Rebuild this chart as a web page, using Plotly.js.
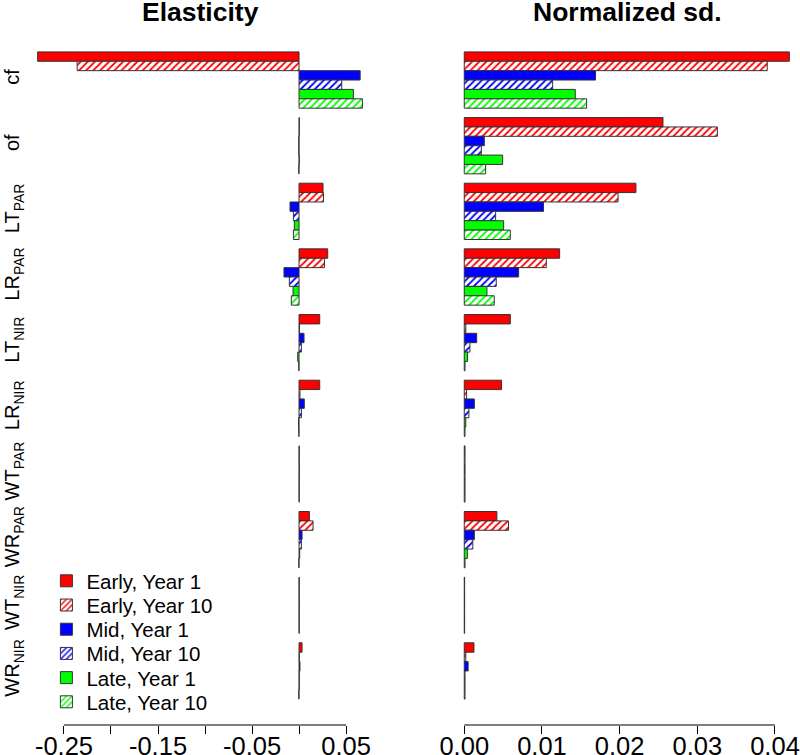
<!DOCTYPE html>
<html>
<head>
<meta charset="utf-8">
<script src="https://cdn.plot.ly/plotly-3.0.1.min.js"></script>
<style>
  body { margin: 0; background: #fff; }
  #chart { width: 800px; height: 755px; }
</style>
</head>
<body>
<div id="chart"></div>
<script>
// categories, top to bottom
const categories = ['cf', 'of', 'LT<sub>PAR</sub>', 'LR<sub>PAR</sub>', 'LT<sub>NIR</sub>',
    'LR<sub>NIR</sub>', 'WT<sub>PAR</sub>', 'WR<sub>PAR</sub>', 'WT<sub>NIR</sub>', 'WR<sub>NIR</sub>'];

const seriesNames = ['Early, Year 1', 'Early, Year 10', 'Mid, Year 1', 'Mid, Year 10', 'Late, Year 1', 'Late, Year 10'];

// Elasticity
const elastEarly1  = [-0.278, 0.0003, 0.0255, 0.0305, 0.022, 0.022, 0.0002, 0.011, 0.0002, 0.0032];
const elastEarly10 = [-0.236, 0.0003, 0.026, 0.027, 0.0005, 0.001, 0.0002, 0.0149, 0.0002, 0.0003];
const elastMid1    = [0.065, -0.0003, -0.0096, -0.016, 0.0053, 0.0056, 0.0003, 0.0032, 0.0002, 0.001];
const elastMid10   = [0.0454, -0.0003, -0.006, -0.0103, 0.0025, 0.0025, 0.0002, 0.0025, 0.0002, 0.0003];
const elastLate1   = [0.0578, 0.0003, -0.005, -0.0064, -0.0014, -0.0005, 0.0002, 0.0007, 0.0002, 0.0003];
const elastLate10  = [0.0674, -0.0003, -0.006, -0.0082, -0.0003, -0.0003, 0.0002, -0.0003, 0.0002, -0.0003];

// Normalized sd.
const sdEarly1  = [0.04185, 0.02558, 0.0221, 0.01228, 0.00593, 0.0048, 0.0001, 0.0042, 0.00005, 0.00125];
const sdEarly10 = [0.0390, 0.03258, 0.0198, 0.01056, 0.0002, 0.0003, 0.0001, 0.0057, 0.00005, 0.0002];
const sdMid1    = [0.0169, 0.00258, 0.0102, 0.0070, 0.0016, 0.0013, 0.0001, 0.0013, 0.00005, 0.0005];
const sdMid10   = [0.01138, 0.0022, 0.00404, 0.00412, 0.00073, 0.0006, 0.0001, 0.0011, 0.00005, 0.0001];
const sdLate1   = [0.01429, 0.00494, 0.00507, 0.00292, 0.00043, 0.0002, 0.0001, 0.0004, 0.00005, 0.0001];
const sdLate10  = [0.01575, 0.00275, 0.00593, 0.00386, 0.0001, 0.0001, 0.0001, 0.0001, 0.00005, 0.0001];

// ticks
const elastTicks = [-0.25, -0.20, -0.15, -0.10, -0.05, 0, 0.05];
const elastTickText = ['-0.25', '', '-0.15', '', '-0.05', '', '0.05'];
const sdTicks = [0, 0.01, 0.02, 0.03, 0.04];
const sdTickText = ['0.00', '0.01', '0.02', '0.03', '0.04'];

const colors = ['#ff0000', '#ff0000', '#0000ff', '#0000ff', '#00ff00', '#00ff00'];
const hatched = [false, true, false, true, false, true];

const elastSeries = [elastEarly1, elastEarly10, elastMid1, elastMid10, elastLate1, elastLate10];
const sdSeries = [sdEarly1, sdEarly10, sdMid1, sdMid10, sdLate1, sdLate10];

const font = 'Liberation Sans, Arial, sans-serif';

// one legend per entry so rows can be packed tighter than plotly's default
const legendIds = ['legend', 'legend2', 'legend3', 'legend4', 'legend5', 'legend6'];

function makeBar(vals, i, xa, ya, legend) {
    const marker = {
        color: hatched[i] ? 'white' : colors[i],
        line: { color: '#333', width: 1 }
    };
    if (hatched[i]) {
        marker.pattern = { shape: '/', fgcolor: colors[i], bgcolor: 'white', size: 5, solidity: 0.35 };
    }
    return {
        type: 'bar',
        orientation: 'h',
        x: vals,
        y: categories,
        xaxis: xa,
        yaxis: ya,
        name: seriesNames[i],
        legend: legendIds[i],
        legendgroup: seriesNames[i],
        showlegend: legend,
        marker: marker
    };
}

var data = [];
elastSeries.forEach((s, i) => data.push(makeBar(s, i, 'x', 'y', true)));
sdSeries.forEach((s, i) => data.push(makeBar(s, i, 'x2', 'y2', false)));

const yRange = [9.823, -0.823];

var layout = {
    width: 800,
    height: 755,
    margin: { l: 0, r: 0, t: 26, b: 30 },
    paper_bgcolor: 'white',
    plot_bgcolor: 'white',
    font: { family: font, color: '#000' },
    barmode: 'group',
    bargap: 1 / 7,
    bargroupgap: 0,
    xaxis: {
        domain: [0.0306, 0.469],
        range: [-0.292, 0.081],
        tickvals: elastTicks,
        ticktext: elastTickText,
        ticks: 'outside', ticklen: 8, tickcolor: '#000',
        ticklabelstandoff: -10,
        ticklabeloverflow: 'allow',
        tickfont: { size: 25.5 },
        showline: false, showgrid: false, zeroline: false
    },
    yaxis: {
        anchor: 'x',
        range: yRange,
        tickangle: -90,
        tickfont: { size: 20 },
        ticks: '',
        showline: false, showgrid: false, zeroline: false
    },
    xaxis2: {
        domain: [0.5641, 1],
        range: [-0.00167, 0.04322],
        tickvals: sdTicks,
        ticktext: sdTickText,
        ticks: 'outside', ticklen: 8, tickcolor: '#000',
        ticklabelstandoff: -10,
        ticklabeloverflow: 'allow',
        tickfont: { size: 25.5 },
        showline: false, showgrid: false, zeroline: false
    },
    yaxis2: {
        anchor: 'x2',
        range: yRange,
        showticklabels: false,
        ticks: '',
        showline: false, showgrid: false, zeroline: false
    },
    // R style axis lines: only from first to last tick
    shapes: [
        { type: 'line', xref: 'x', yref: 'paper', x0: elastTicks[0], x1: elastTicks[elastTicks.length - 1], y0: 0, y1: 0, line: { color: '#000', width: 1 } },
        { type: 'line', xref: 'x2', yref: 'paper', x0: sdTicks[0], x1: sdTicks[sdTicks.length - 1], y0: 0, y1: 0, line: { color: '#000', width: 1 } }
    ],
    annotations: [
        { text: '<b>Elasticity</b>', xref: 'paper', yref: 'paper', x: 0.25, y: 1.02, xanchor: 'center', yanchor: 'middle', showarrow: false, font: { size: 26.5 } },
        { text: '<b>Normalized sd.</b>', xref: 'paper', yref: 'paper', x: 0.784, y: 1.02, xanchor: 'center', yanchor: 'middle', showarrow: false, font: { size: 26.5 } }
    ]
};

// legend rows: centre of first row and spacing, in pixels
const legendTop = 581, legendStep = 24.2, plotTop = 26, plotH = 699;
legendIds.forEach((id, i) => {
    layout[id] = {
        x: 0.058,
        y: 1 - (legendTop + i * legendStep - plotTop) / plotH,
        xanchor: 'left', yanchor: 'middle',
        bgcolor: 'rgba(0,0,0,0)',
        font: { size: 20.5 }
    };
});

Plotly.newPlot('chart', data, layout, { displayModeBar: false, staticPlot: true });
</script>
</body>
</html>
